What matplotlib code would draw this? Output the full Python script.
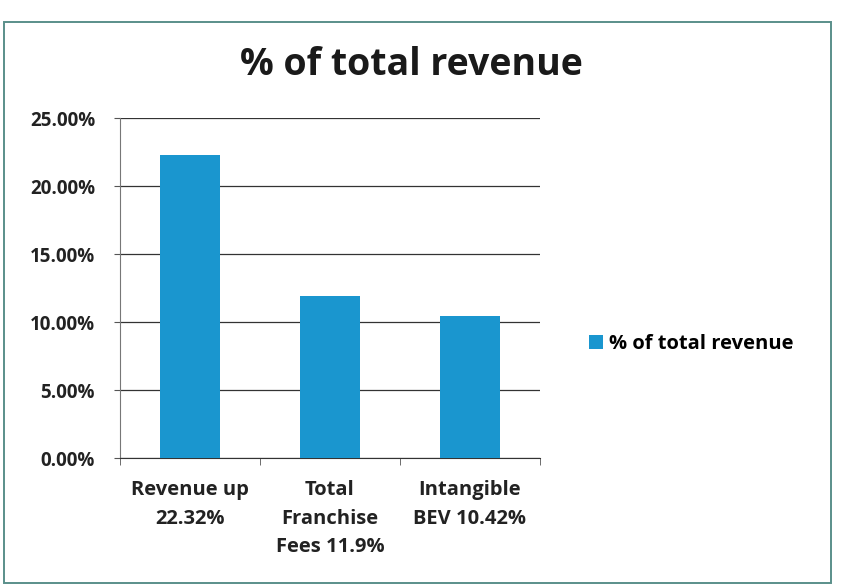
import matplotlib.pyplot as plt
from matplotlib.patches import Rectangle
import numpy as np

categories = ['Revenue up\n22.32%', 'Total\nFranchise\nFees 11.9%', 'Intangible\nBEV 10.42%']
values = [22.32, 11.9, 10.42]
series_name = '% of total revenue'
yticks = [0, 5, 10, 15, 20, 25]

plt.rcParams['font.family'] = ['Open Sans', 'DejaVu Sans']

fig = plt.figure(figsize=(8.58, 5.88), dpi=100)
ax = fig.add_axes([0.14, 0.221, 0.489, 0.578])

x = np.arange(len(values))
bars = ax.bar(x, values, width=0.43, color='#1a96cf', label=series_name, zorder=3)

ax.set_xlim(-0.5, len(values) - 0.5)
ax.set_ylim(0, 25)
ax.set_yticks(yticks)
ax.set_yticklabels(['%.2f%%' % v for v in yticks], fontsize=13.5, fontweight='bold', color='#222222')
ax.set_xticks(x)
ax.set_xticklabels(categories, fontsize=14.5, fontweight='bold', color='#222222', linespacing=1.55)
ax.tick_params(axis='x', length=0, pad=16)
ax.tick_params(axis='y', length=4, color='#555555', pad=14)
ax.set_xticks(np.arange(-0.5, len(values), 1), minor=True)
ax.tick_params(axis='x', which='minor', length=5, color='#555555')

ax.grid(axis='y', color='#333333', linewidth=0.9, zorder=0)
for side in ['top', 'right']:
    ax.spines[side].set_visible(False)
ax.spines['left'].set_color('#777777')
ax.spines['bottom'].set_color('#333333')

fig.text(0.48, 0.89, series_name, ha='center', va='center',
         fontsize=27, fontweight='bold', color='#1a1a1a')

fig.legend(handles=[bars], labels=[series_name], loc='center left',
           bbox_to_anchor=(0.665, 0.415), frameon=False,
           prop={'weight': 'bold', 'size': 14.5}, handlelength=0.7, handleheight=0.7,
           handletextpad=0.3)

# chart frame
fig.patches.append(Rectangle((0.005, 0.008), 0.963, 0.955, transform=fig.transFigure,
                             fill=False, edgecolor='#5a8f8a', linewidth=1.4))

fig.savefig('out.png', dpi=100, facecolor='white')
